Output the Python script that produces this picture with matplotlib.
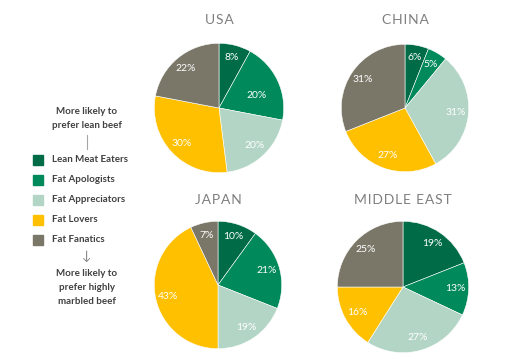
import matplotlib
matplotlib.use("Agg")
import matplotlib.pyplot as plt

plt.rcParams['font.family'] = ['Lato', 'DejaVu Sans']

segments = ['Lean Meat Eaters', 'Fat Apologists', 'Fat Appreciators', 'Fat Lovers', 'Fat Fanatics']
colors = ['#006B47', '#00895A', '#B3D5C5', '#FFC000', '#7A7668']

regions = ['USA', 'CHINA', 'JAPAN', 'MIDDLE EAST']
usa = [8, 20, 20, 30, 22]
china = [6, 5, 31, 27, 31]
japan = [10, 21, 19, 43, 7]
middle_east = [19, 13, 27, 16, 25]
shares = [usa, china, japan, middle_east]

W, H = 523, 359
fig = plt.figure(figsize=(W / 100, H / 100), dpi=100)

# pie centre (px), radius (px), title y (px)
layout = [(219, 108, 66, 20), (405, 108, 65, 20), (218, 285, 65, 200), (403, 287, 67, 200)]


def spaced(s):
    # mimic the letter-spaced titles
    return '\u200a'.join(s)


for name, vals, (cx, cy, r, ty) in zip(regions, shares, layout):
    ax = fig.add_axes([(cx - r) / W, (H - cy - r) / H, 2 * r / W, 2 * r / H])
    wedges, texts, autotexts = ax.pie(
        vals, colors=colors, startangle=90, counterclock=False,
        autopct='%d%%', pctdistance=0.8,
        wedgeprops=dict(edgecolor='white', linewidth=0.4),
        textprops=dict(color='white', fontsize=7.5))
    if name == 'USA':
        # excel's best-fit puts this one further in
        x, y = autotexts[1].get_position()
        autotexts[1].set_position((x * 0.8, y * 0.55))
    ax.set_xlim(-1.02, 1.02)
    ax.set_ylim(-1.02, 1.02)
    ax.set_aspect('equal')
    ax.axis('off')
    fig.text(cx / W, 1 - ty / H, spaced(name), ha='center', va='center',
             fontsize=10, color='#7F7F7F')

# legend column
txt_col = '#404040'
fig.text(87 / W, 1 - 112 / H, 'More likely to', ha='center', va='center', fontsize=7, color=txt_col, fontweight='bold')
fig.text(87 / W, 1 - 125 / H, 'prefer lean beef', ha='center', va='center', fontsize=7, color=txt_col, fontweight='bold')
fig.add_artist(plt.Line2D([87 / W, 87 / W], [1 - 135 / H, 1 - 149 / H], color='#A6A6A6', lw=0.8))

for i, (lab, c) in enumerate(zip(segments, colors)):
    y = 160 + 20 * i
    fig.add_artist(plt.Rectangle((33 / W, 1 - (y + 5) / H), 10 / W, 10 / H, color=c))
    fig.text(52 / W, 1 - y / H, lab, ha='left', va='center', fontsize=7, color=txt_col, fontweight='bold')

fig.text(87 / W, 1 - 256 / H, '\u2193', ha='center', va='center', fontsize=9, color='#808080')
fig.text(87 / W, 1 - 273 / H, 'More likely to', ha='center', va='center', fontsize=7, color=txt_col, fontweight='bold')
fig.text(87 / W, 1 - 287 / H, 'prefer highly', ha='center', va='center', fontsize=7, color=txt_col, fontweight='bold')
fig.text(87 / W, 1 - 301 / H, 'marbled beef', ha='center', va='center', fontsize=7, color=txt_col, fontweight='bold')

fig.savefig('out.png', dpi=100, facecolor='white')
